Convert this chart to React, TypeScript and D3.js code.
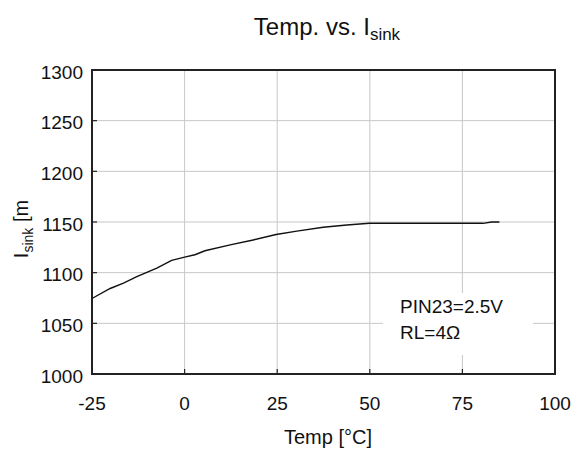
import React from "react";
import * as d3 from "d3";

const temps = [-25, -20.1, -16.5, -12.9, -7.5, -3.5, 0, 2.8, 5.5, 12.3, 18.5, 24.7, 30.3, 37.4, 43.8, 49.9, 80.6, 82.9, 85];
const isink = [1074.5, 1084.4, 1089.6, 1096, 1104.5, 1112.2, 1115.4, 1117.7, 1121.6, 1127.4, 1132.2, 1137.7, 1141, 1144.8, 1147.1, 1148.7, 1148.7, 1150, 1150];
const xTicks = [-25, 0, 25, 50, 75, 100];
const yTicks = [1000, 1050, 1100, 1150, 1200, 1250, 1300];
const legendLines = ["PIN23=2.5V", "RL=4Ω"];

export default function App() {
  const W = 578, H = 450;
  const left = 92, right = 555, top = 70, bottom = 374;
  const x = d3.scaleLinear().domain([-25, 100]).range([left, right]);
  const y = d3.scaleLinear().domain([1000, 1300]).range([bottom, top]);
  const line = d3.line<number>().x((_, i) => x(temps[i])).y((d) => y(d));
  const font = "Liberation Sans, Arial, sans-serif";
  return (
    <svg width={W} height={H} style={{ position: "absolute", left: 0, top: 0, background: "#fff" }} fontFamily={font}>
      <rect x={0} y={0} width={W} height={H} fill="#fff" />
      {xTicks.slice(1, -1).map((t) => (
        <line key={"gx" + t} x1={x(t)} x2={x(t)} y1={top} y2={bottom} stroke="#c8c8c8" strokeWidth={1} />
      ))}
      {yTicks.slice(1, -1).map((t) => (
        <line key={"gy" + t} x1={left} x2={right} y1={y(t)} y2={y(t)} stroke="#c8c8c8" strokeWidth={1} />
      ))}
      <rect x={383} y={293} width={150} height={62} fill="#fff" />
      {xTicks.map((t) => (
        <line key={"tx" + t} x1={x(t)} x2={x(t)} y1={bottom} y2={bottom - 5} stroke="#222" strokeWidth={1.2} />
      ))}
      {yTicks.map((t) => (
        <line key={"ty" + t} x1={left} x2={left + 5} y1={y(t)} y2={y(t)} stroke="#222" strokeWidth={1.2} />
      ))}
      <rect x={left} y={top} width={right - left} height={bottom - top} fill="none" stroke="#222" strokeWidth={2} />
      <path d={line(isink) || ""} fill="none" stroke="#111" strokeWidth={1.4} />
      {xTicks.map((t) => (
        <text key={"lx" + t} x={x(t)} y={410} textAnchor="middle" fontSize={19} fill="#111">{t}</text>
      ))}
      {yTicks.map((t) => (
        <text key={"ly" + t} x={83} y={y(t) + 8.5} textAnchor="end" fontSize={19} fill="#111">{t}</text>
      ))}
      <text x={327} y={35} textAnchor="middle" fontSize={24} fill="#111">
        Temp. vs. I<tspan fontSize={17} dy={5}>sink</tspan>
      </text>
      <text x={328} y={444} textAnchor="middle" fontSize={20} fill="#111">Temp [°C]</text>
      <text transform="translate(28,229) rotate(-90)" textAnchor="middle" fontSize={20} fill="#111">
        I<tspan fontSize={14} dy={5}>sink</tspan><tspan dy={-5}> [m</tspan>
      </text>
      {legendLines.map((s, i) => (
        <text key={s} x={400} y={313 + i * 26} fontSize={19} fill="#111">{s}</text>
      ))}
    </svg>
  );
}
